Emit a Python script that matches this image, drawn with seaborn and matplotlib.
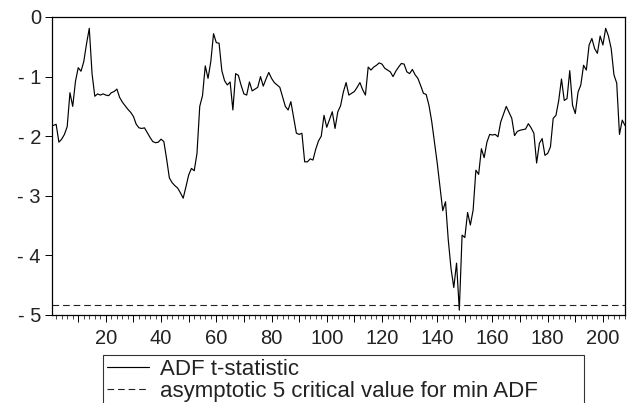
import matplotlib
matplotlib.use("Agg")
import matplotlib.pyplot as plt
from matplotlib.ticker import MultipleLocator, FuncFormatter
import seaborn as sns
import pandas as pd

# ---------------- data ----------------
adf_t_statistic = [
    -1.82, -1.80, -2.10, -2.05, -1.97, -1.84, -1.27, -1.50, -1.08, -0.85,
    -0.91, -0.75, -0.45, -0.19, -0.95, -1.33, -1.29, -1.31, -1.29, -1.31,
    -1.32, -1.27, -1.25, -1.21, -1.35, -1.43, -1.49, -1.55, -1.60, -1.67,
    -1.80, -1.86, -1.87, -1.86, -1.94, -2.02, -2.09, -2.11, -2.10, -2.05,
    -2.09, -2.38, -2.70, -2.78, -2.83, -2.87, -2.95, -3.04, -2.85, -2.65,
    -2.54, -2.58, -2.29, -1.50, -1.32, -0.82, -1.03, -0.75, -0.28, -0.43,
    -0.44, -0.90, -1.07, -1.14, -1.09, -1.56, -0.95, -0.98, -1.15, -1.29,
    -1.31, -1.09, -1.24, -1.21, -1.18, -1.00, -1.16, -1.04, -0.93, -1.03,
    -1.10, -1.14, -1.18, -1.34, -1.50, -1.56, -1.42, -1.68, -1.95, -1.97,
    -1.95, -2.43, -2.43, -2.38, -2.40, -2.22, -2.08, -2.00, -1.65, -1.85,
    -1.72, -1.59, -1.87, -1.59, -1.49, -1.26, -1.10, -1.31, -1.28, -1.25,
    -1.18, -1.10, -1.22, -1.31, -0.84, -0.89, -0.84, -0.81, -0.77, -0.79,
    -0.86, -0.89, -0.92, -1.00, -0.91, -0.84, -0.78, -0.79, -0.92, -0.95,
    -0.88, -0.97, -1.03, -1.15, -1.28, -1.30, -1.48, -1.75, -2.10, -2.45,
    -2.85, -3.25, -3.10, -3.74, -4.22, -4.54, -4.13, -4.92, -3.66, -3.70,
    -3.28, -3.49, -3.24, -2.57, -2.64, -2.21, -2.36, -2.10, -1.97, -1.98,
    -1.97, -2.01, -1.76, -1.63, -1.50, -1.60, -1.70, -1.99, -1.92, -1.90,
    -1.89, -1.88, -1.79, -1.86, -1.95, -2.45, -2.12, -2.04, -2.32, -2.29,
    -2.18, -1.70, -1.65, -1.40, -1.04, -1.40, -1.37, -0.90, -1.48, -1.62,
    -1.26, -1.14, -0.81, -0.89, -0.47, -0.36, -0.53, -0.61, -0.32, -0.47,
    -0.19, -0.32, -0.53, -0.97, -1.11, -1.97, -1.73, -1.82,
]
observation = list(range(1, len(adf_t_statistic) + 1))
critical_value = -4.84

y_ticks = [0, -1, -2, -3, -4, -5]
y_tick_labels = ["0", "- 1", "- 2", "- 3", "- 4", "- 5"]
series_label = "ADF t-statistic"
critical_label = "asymptotic 5 critical value for min ADF"

df = pd.DataFrame({"obs": observation, "adf": adf_t_statistic})

# ---------------- style ----------------
sns.set_style("ticks")
plt.rcParams["font.family"] = ["Liberation Sans", "DejaVu Sans"]

fig = plt.figure(figsize=(6.27, 4.03), dpi=100)
ax = fig.add_axes([52 / 627, 1 - 315 / 403, (625 - 52) / 627, (315 - 17) / 403])

sns.lineplot(data=df, x="obs", y="adf", ax=ax, color="black", linewidth=0.85,
             label=series_label, legend=False)
ax.axhline(critical_value, color="#222222", linewidth=0.8,
           linestyle=(0, (6, 3.5)), label=critical_label)

ax.set_xlim(0.5, 208)
ax.set_ylim(-5, 0)
ax.set_yticks(y_ticks)
ax.set_yticklabels(y_tick_labels)
ax.xaxis.set_major_locator(MultipleLocator(10))
ax.xaxis.set_minor_locator(MultipleLocator(2))
ax.xaxis.set_major_formatter(FuncFormatter(lambda v, p: f"{int(v)}" if int(v) % 20 == 0 and v > 0 else ""))
ax.set_xlabel("")
ax.set_ylabel("")

for s in ax.spines.values():
    s.set_visible(True)
    s.set_linewidth(0.9)
    s.set_color("black")

ax.tick_params(axis="x", which="major", length=5, width=0.7, labelsize=14.5, pad=5, colors="black")
ax.tick_params(axis="x", which="minor", length=3, width=0.6)
ax.tick_params(axis="y", which="major", length=5, width=0.7, labelsize=14.5, pad=3, colors="black")
for t in ax.get_xticklabels() + ax.get_yticklabels():
    t.set_color("#222222")

handles, labels = ax.get_legend_handles_labels()
leg = fig.legend(handles, labels, loc="upper left",
                 bbox_to_anchor=(103 / 627, 1 - 355 / 403, (584 - 103) / 627, 0.001),
                 mode="expand", fontsize=16, frameon=True, fancybox=False,
                 borderpad=0.2, labelspacing=0.05, handlelength=1.85,
                 handletextpad=0.5, borderaxespad=0)
leg.get_frame().set_edgecolor("black")
leg.get_frame().set_linewidth(0.8)
for t in leg.get_texts():
    t.set_color("#222222")

fig.savefig("out.png", dpi=100)
